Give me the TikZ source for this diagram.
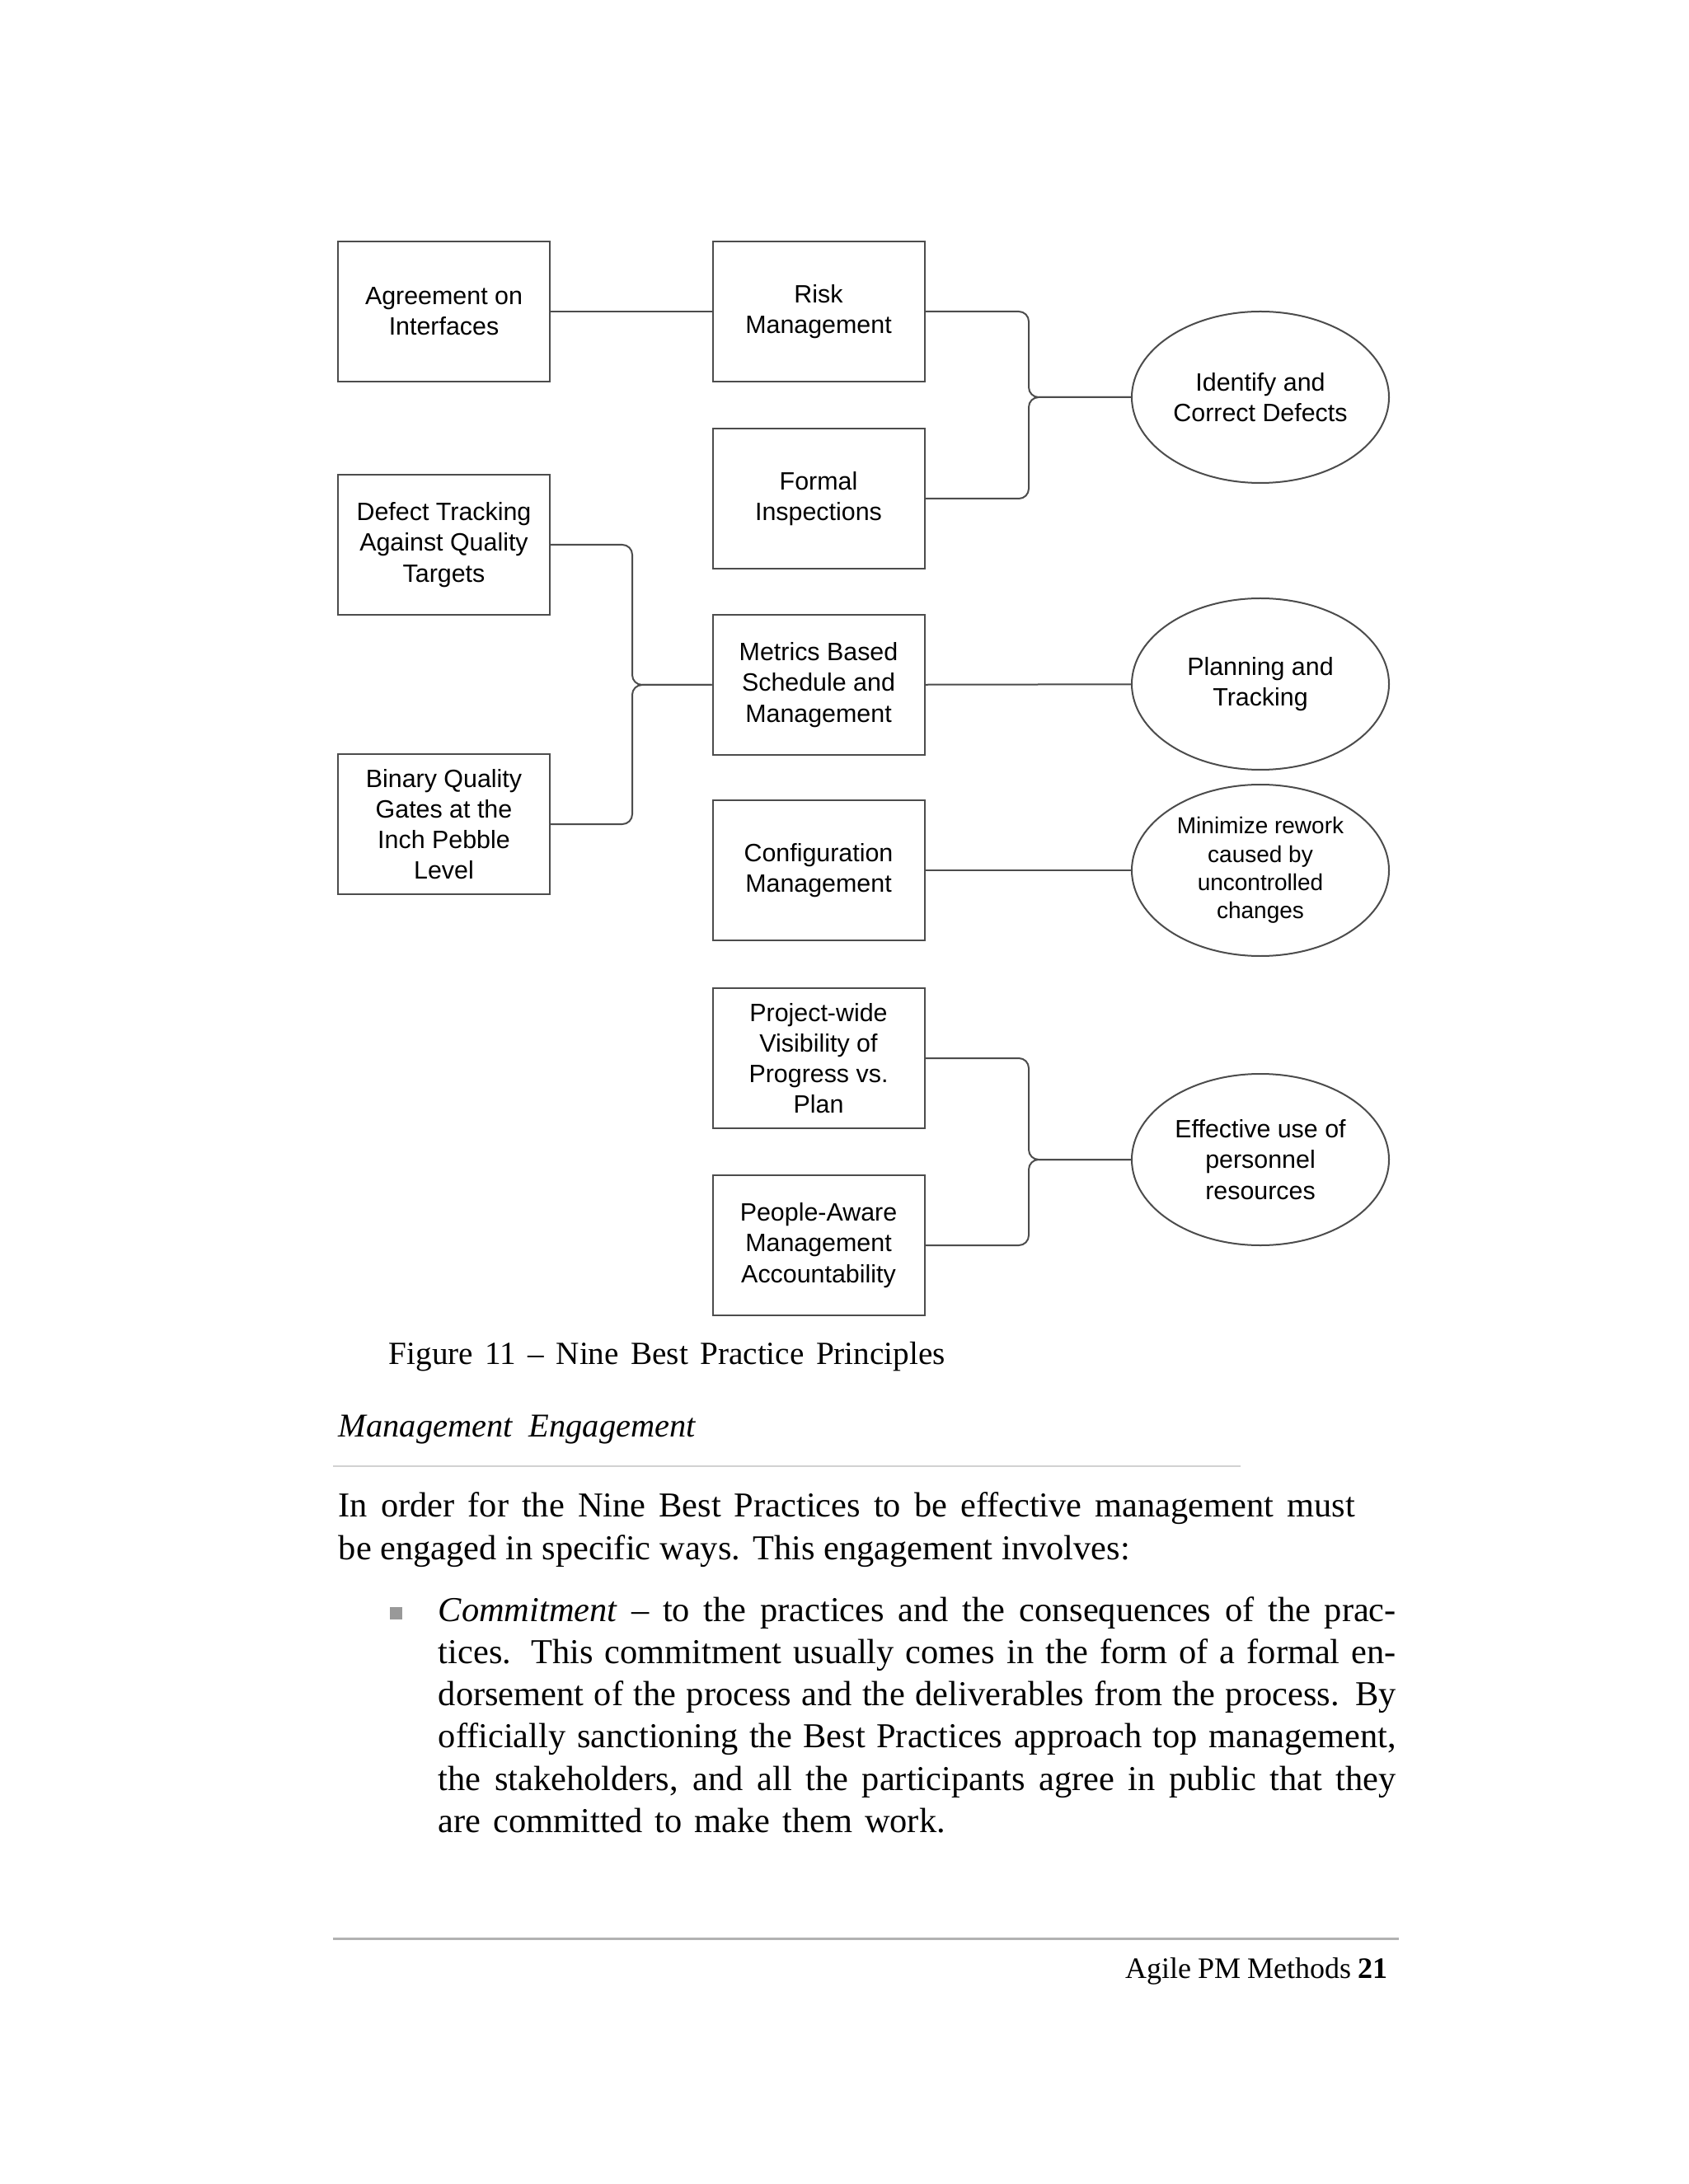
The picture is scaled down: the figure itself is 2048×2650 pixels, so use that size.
\documentclass[tikz,border=0pt]{standalone}
\usepackage{fontspec}
\setmainfont{Liberation Serif}
\newfontfamily\diagfont{Liberation Sans}
\usetikzlibrary{shapes.geometric}
\definecolor{edgegray}{gray}{0.3}
\definecolor{bulletgray}{gray}{0.6}
\definecolor{rulegray}{gray}{0.82}
\definecolor{footgray}{gray}{0.7}
\begin{document}
\begin{tikzpicture}[x=0.25pt,y=-0.25pt,
  box/.style={draw=edgegray, line width=0.5pt, minimum width=64.25pt, minimum height=42.5pt,
    inner sep=1pt, align=center, font=\diagfont\fontsize{7.6pt}{9.3pt}\selectfont},
  goal/.style={ellipse, draw=edgegray, line width=0.5pt, minimum width=78pt, minimum height=52pt,
    inner sep=0pt, align=center, font=\diagfont\fontsize{7.6pt}{9.3pt}\selectfont},
  smallgoal/.style={goal, font=\diagfont\fontsize{7pt}{8.6pt}\selectfont},
  link/.style={draw=edgegray, line width=0.5pt},
  brace/.style={link, rounded corners=3pt},
  txt/.style={anchor=base west, inner sep=0pt, font=\fontsize{10.6pt}{13pt}\selectfont},
  itxt/.style={anchor=base west, inner sep=0pt, font=\itshape\fontsize{10.1pt}{13pt}\selectfont},
]
\useasboundingbox (0,0) rectangle (2048,2650);
\fill[white] (0,0) rectangle (2048,2650);

% boxes
\node[box] (agree)   at (538.5,378)  {Agreement on\\Interfaces};
\node[box] (risk)    at (993,378)    {Risk\\Management};
\node[box] (formal)  at (993,605)    {Formal\\Inspections};
\node[box] (defect)  at (538.5,661)  {Defect Tracking\\Against Quality\\Targets};
\node[box] (metrics) at (993,831)    {Metrics Based\\Schedule and\\Management};
\node[box] (binary)  at (538.5,1000) {Binary Quality\\Gates at the\\Inch Pebble\\Level};
\node[box] (config)  at (993,1056)   {Configuration\\Management};
\node[box] (project) at (993,1284)   {Project-wide\\Visibility of\\Progress vs.\\Plan};
\node[box] (people)  at (993,1511)   {People-Aware\\Management\\Accountability};

% goals
\node[goal] (identify)  at (1529,482)  {Identify and\\Correct Defects};
\node[goal] (planning)  at (1529,830)  {Planning and\\Tracking};
\node[smallgoal] (minimize) at (1529,1056) {Minimize rework\\caused by\\uncontrolled\\changes};
\node[goal] (effective) at (1529,1407) {Effective use of\\personnel\\resources};

% junctions
\coordinate (j1) at (1248,482);
\coordinate (j2) at (767,831);
\coordinate (j3) at (1248,1407);

% connectors
\draw[link] (agree) -- (risk);
\draw[brace] (risk.east) -| (j1) -- (identify.west);
\draw[brace] (formal.east) -| (j1) -- (identify.west);
\draw[brace] (defect.east) -| (j2) -- (metrics.west);
\draw[brace] (binary.east) -| (j2) -- (metrics.west);
\draw[link] (metrics) -- (planning);
\draw[link] (config) -- (minimize);
\draw[brace] (project.east) -| (j3) -- (effective.west);
\draw[brace] (people.east) -| (j3) -- (effective.west);

% caption and text
\node[txt, font=\fontsize{9.8pt}{13pt}\selectfont] (cap) at (471,1655)
  {\makebox[168.75pt][s]{Figure 11 – Nine Best Practice Principles}};
\node[itxt] (head) at (410,1743) {\makebox[108.25pt][s]{Management Engagement}};
\draw[rulegray, line width=0.5pt] (404,1779) -- (1505,1779);

\node[txt] (p1) at (410,1840) {\makebox[308.25pt][s]{In order for the Nine Best Practices to be effective management must}};
\node[txt] (p2) at (410,1892) {\makebox[240pt][s]{be engaged in specific ways. This engagement involves:}};

\node[fill=bulletgray, minimum size=3.75pt, inner sep=0pt] (bul) at (480.5,1957.5) {};
\node[txt] (b1) at (531,1967) {\makebox[290.5pt][s]{\textit{Commitment} – to the practices and the consequences of the prac-}};
\node[txt] (b2) at (531,2018) {\makebox[290.5pt][s]{tices. This commitment usually comes in the form of a formal en-}};
\node[txt] (b3) at (531,2069) {\makebox[290.5pt][s]{dorsement of the process and the deliverables from the process. By}};
\node[txt] (b4) at (531,2120) {\makebox[290.5pt][s]{officially sanctioning the Best Practices approach top management,}};
\node[txt] (b5) at (531,2172) {\makebox[290.5pt][s]{the stakeholders, and all the participants agree in public that they}};
\node[txt] (b6) at (531,2223) {\makebox[153.75pt][s]{are committed to make them work.}};

% footer
\draw[footgray, line width=0.75pt] (404,2352) -- (1697,2352);
\node[anchor=base east, inner sep=0pt, font=\fontsize{9pt}{12pt}\selectfont] (foot) at (1684,2400)
  {\makebox[79.5pt][s]{Agile PM Methods \textbf{21}}};
\end{tikzpicture}
\end{document}
